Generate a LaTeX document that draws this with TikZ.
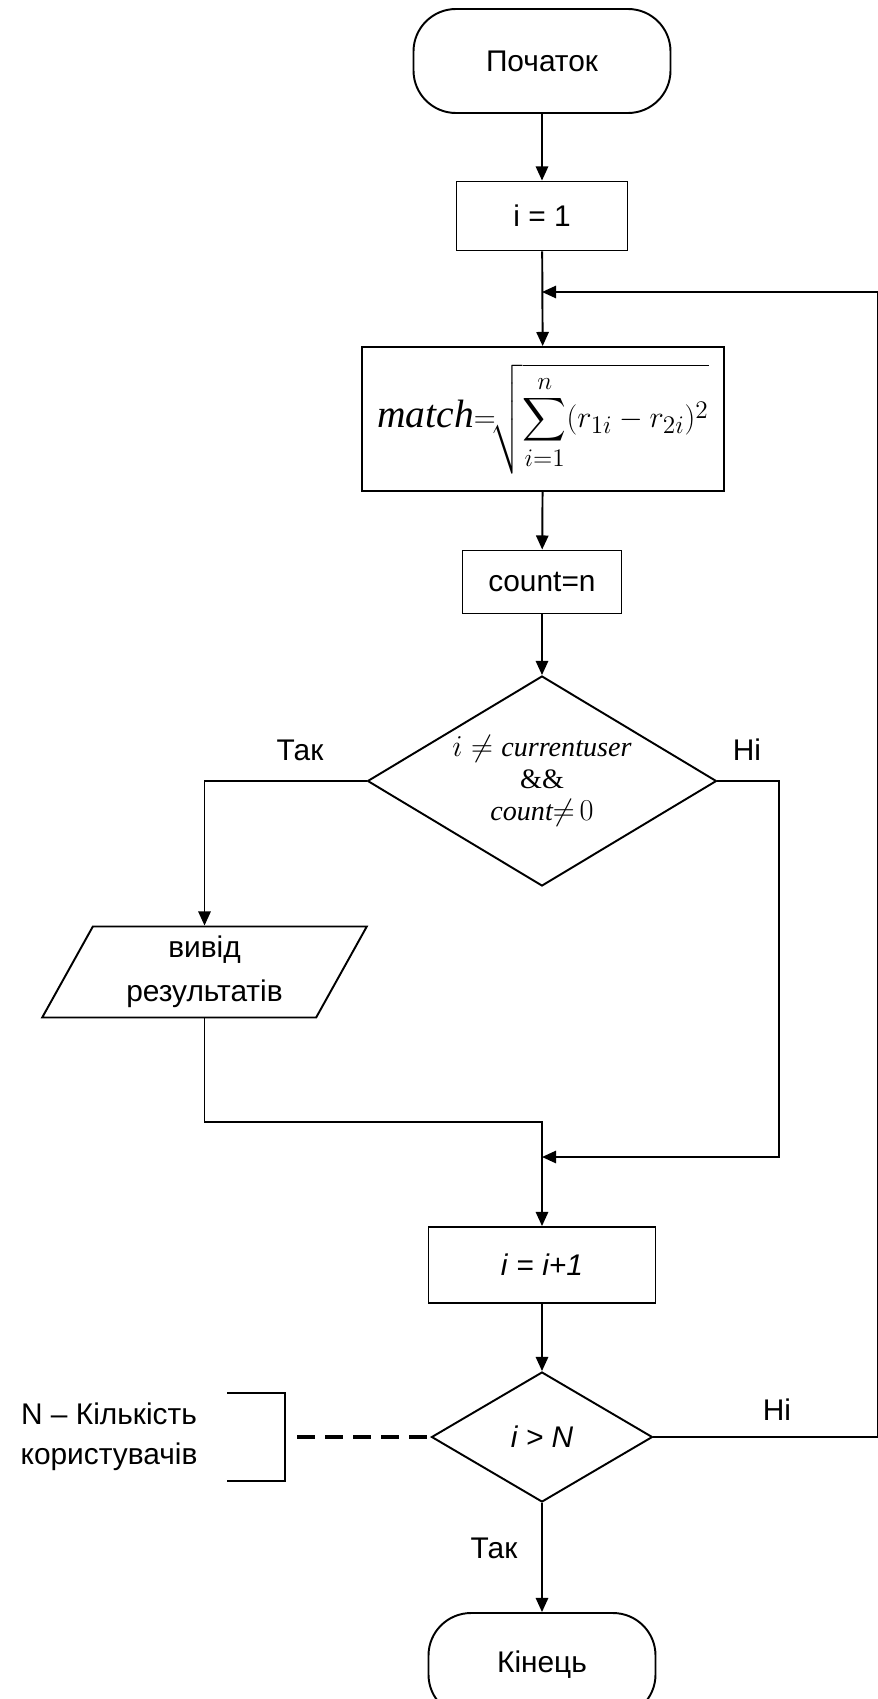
\documentclass[tikz,border=0pt]{standalone}
\usepackage{amsmath}
\usepackage{fontspec}
\setmainfont{Liberation Sans}
\newfontfamily\serifrm{Liberation Serif}
\newcommand{\sit}[1]{\text{\serifrm\itshape #1}}
\usepackage{tikz}
\usetikzlibrary{arrows.meta,shapes.geometric,calc}

\begin{document}
\begin{tikzpicture}[
    font=\fontsize{17}{20}\selectfont,
    >={Triangle[width=7pt,length=8pt]},
    line width=1.1pt,
    arrow/.style={->},
    block/.style={draw, minimum width=3.42cm, minimum height=1.38cm,
                  align=center, inner sep=2pt, fill=white},
    terminal/.style={draw, rounded corners=0.85cm, minimum width=5.14cm,
                     minimum height=2.08cm, align=center},
    decision/.style={draw, diamond, aspect=1.66, inner sep=0pt, align=center},
    io/.style={draw, trapezium, trapezium left angle=63.7,
               trapezium right angle=116.3, trapezium stretches=true,
               minimum width=6.5cm, minimum height=1.82cm, inner sep=0pt,
               align=center, font=\fontsize{17}{25}\selectfont},
    lbl/.style={inner sep=0pt, align=center},
]
\useasboundingbox (0,0) rectangle (17.56,-33.98);

%% ── main column ──────────────────────────────────────────────
\node[terminal]             (start) at (10.84,-1.22)  {Початок};
\node[block]                (init)  at (10.84,-4.32)  {i = 1};
\node[block, minimum width=7.24cm, minimum height=2.88cm, inner sep=0pt,
      font=\fontsize{19}{22}\selectfont]
                            (match) at (10.86,-8.38)
  {$\displaystyle \text{\fontsize{22.5}{24}\serifrm\itshape match}{=}\!
    \sqrt{\sum_{i=1}^{n}(r_{1i}-r_{2i})^2}$};
\node[block, minimum width=3.18cm, minimum height=1.26cm]
                            (count) at (10.84,-11.64) {count=n};
\node[decision, minimum width=6.98cm, minimum height=4.2cm,
      font=\fontsize{16}{18}\selectfont]
                            (cond1) at (10.84,-15.62)
  {$i \neq \sit{currentuser}$\\{\serifrm\&\&}\\$\sit{count}{\neq}\,0$};
\node[io]                   (out)   at (4.09,-19.44)  {вивід\\результатів};
\node[block, minimum width=4.54cm, minimum height=1.52cm]
                            (incr)  at (10.84,-25.3)  {\textit{i} = \textit{i+1}};
\node[decision, minimum width=4.42cm, minimum height=2.6cm]
                            (cond2) at (10.84,-28.74) {\textit{i > N}};
\node[terminal, minimum width=4.54cm]
                            (stop)  at (10.84,-33.3)  {Кінець};

%% ── branch labels ────────────────────────────────────────────
\node[lbl] (yes1) at (6.0,-15.0)   {Так};
\node[lbl] (no1)  at (14.94,-15.0) {Ні};
\node[lbl] (no2)  at (15.54,-28.2) {Ні};
\node[lbl] (yes2) at (9.88,-30.96) {Так};

\coordinate (loop)  at (17.56,-5.84);
\coordinate (ret)   at (10.84,-5.84);
\coordinate (rbus)  at (15.58,-15.62);
\coordinate (join)  at (10.84,-22.44);
\coordinate (merge) at (10.84,-23.14);

\draw[arrow] (start) -- (init);
\draw[arrow] (init)  -- (match);
\draw[arrow] (match) -- (count);
\draw[arrow] (count) -- (cond1);
\draw[arrow] (cond1.west) -| (out.north);
\draw[arrow] (out.south) |- (join) -- (incr.north);
\draw[arrow] (cond1.east) -- (rbus) |- (merge);
\draw[arrow] (incr)  -- (cond2);
\draw[arrow] (cond2) -- (stop);
\draw[arrow] (cond2.east) -- (cond2.east -| loop) -- (loop) -- (ret);

%% ── comment ──────────────────────────────────────────────────
\node[lbl, font=\fontsize{17}{23}\selectfont] (note) at (2.18,-28.74)
  {N – Кількість\\користувачів};
\coordinate (brk)  at (5.7,-28.74);
\coordinate (brkd) at (5.94,-28.74);
\draw (brk) ++(-1.16,0.88) -- ++(1.16,0) -- ++(0,-1.76) -- ++(-1.16,0);
\draw[dash pattern=on 10pt off 6pt, line width=1.8pt] (brkd) -- (cond2.west);

\end{tikzpicture}
\end{document}
